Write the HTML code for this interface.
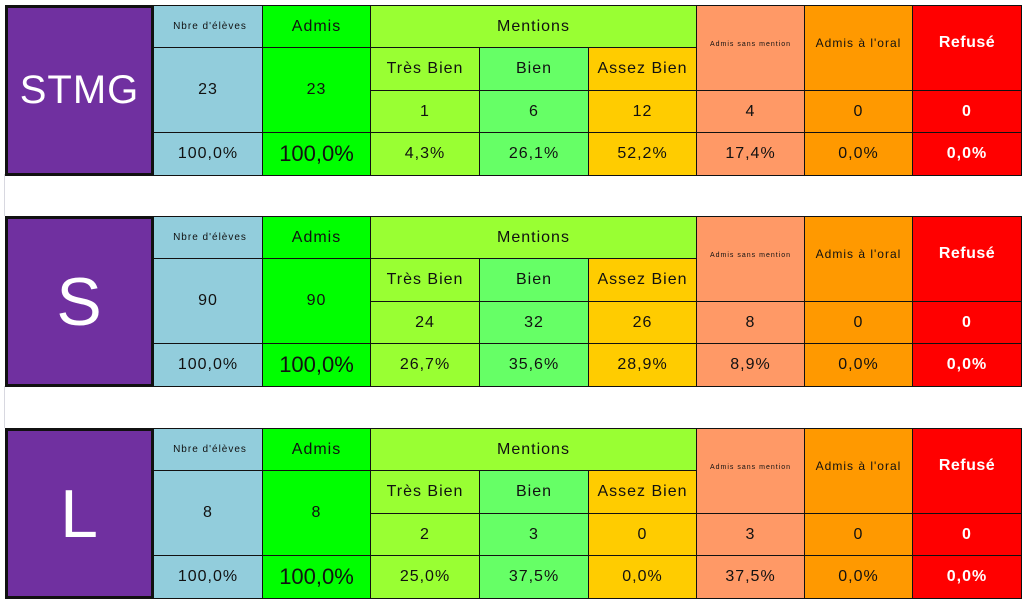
<!DOCTYPE html>
<html><head><meta charset="utf-8">
<style>
html,body{margin:0;padding:0;background:#fff;width:1024px;height:600px;overflow:hidden}
#root{position:relative;width:1024px;height:600px;font-family:"Liberation Sans",sans-serif}
.c{position:absolute;box-sizing:border-box;border:1px solid #111;display:flex;align-items:center;justify-content:center;color:#111;font-size:16px;letter-spacing:1px;white-space:nowrap;overflow:hidden}
.grid{position:absolute;left:4px;width:1px;background:#d8d8e0}
</style></head>
<body>
<div id="root"></div>
<script>
const sections = ["STMG","S","L"];
const nbEleves = [23,90,8];
const admis = [23,90,8];
const tresBien = [1,24,2];
const bien = [6,32,3];
const assezBien = [12,26,0];
const sansMention = [4,8,3];
const oral = [0,0,0];
const refuse = [0,0,0];
const pctEleves = ["100,0%","100,0%","100,0%"];
const pctAdmis = ["100,0%","100,0%","100,0%"];
const pctTB = ["4,3%","26,7%","25,0%"];
const pctB = ["26,1%","35,6%","37,5%"];
const pctAB = ["52,2%","28,9%","0,0%"];
const pctSM = ["17,4%","8,9%","37,5%"];
const pctOral = ["0,0%","0,0%","0,0%"];
const pctRef = ["0,0%","0,0%","0,0%"];

const root = document.getElementById('root');
const X = [5,153,262,370,479,588,696,804,912,1021];
const tops = [5,216,428];
function cell(x1,x2,y1,y2,bg,txt,name,extra){
  const d=document.createElement('div');
  d.className='c';
  d.style.left=x1+'px';d.style.top=y1+'px';
  d.style.width=(x2-x1+1)+'px';d.style.height=(y2-y1+1)+'px';
  d.style.background=bg;
  d.textContent=txt;
  if(extra) Object.assign(d.style,extra);
  
  
  root.appendChild(d);
  return d;
}
[[174,216],[386,428]].forEach(g=>{
  const l=document.createElement('div');l.className='grid';
  l.style.top=g[0]+'px';l.style.height=(g[1]-g[0])+'px';
  
  
  root.appendChild(l);
});
sections.forEach((s,i)=>{
  const t=tops[i];
  const r=[t,t+42,t+85,t+127,t+170];
  const big = s.length>1 ? {fontSize:'40px'} : {fontSize:'68px'};
  cell(X[0],X[1],r[0],r[4],'#7030A0',s,'section-label-'+s.toLowerCase(),Object.assign({color:'#fff',border:'3px solid #111',letterSpacing:'1px'},big));
  cell(X[1],X[2],r[0],r[1],'#92CDDC',"Nbre d'élèves",'header-nbre',{fontSize:'10px',letterSpacing:'1px',paddingLeft:'4px'});
  cell(X[1],X[2],r[1],r[3],'#92CDDC',String(nbEleves[i]),'value-nbre');
  cell(X[1],X[2],r[3],r[4],'#92CDDC',pctEleves[i],'pct-nbre');
  cell(X[2],X[3],r[0],r[1],'#00FF00','Admis','header-admis');
  cell(X[2],X[3],r[1],r[3],'#00FF00',String(admis[i]),'value-admis');
  cell(X[2],X[3],r[3],r[4],'#00FF00',pctAdmis[i],'pct-admis',{fontSize:'22px',letterSpacing:'0px'});
  cell(X[3],X[6],r[0],r[1],'#99FF33','Mentions','header-mentions');
  const mc=[['#99FF33','Très Bien',tresBien,pctTB,'tres-bien'],['#66FF66','Bien',bien,pctB,'bien'],['#FFCC00','Assez Bien',assezBien,pctAB,'assez-bien']];
  mc.forEach((m,j)=>{
    cell(X[3+j],X[4+j],r[1],r[2],m[0],m[1],'header-'+m[4]);
    cell(X[3+j],X[4+j],r[2],r[3],m[0],String(m[2][i]),'value-'+m[4]);
    cell(X[3+j],X[4+j],r[3],r[4],m[0],m[3][i],'pct-'+m[4]);
  });
  cell(X[6],X[7],r[0],r[2],'#FF9966','Admis sans mention','header-sans-mention',{fontSize:'7px',letterSpacing:'1px',paddingBottom:'8px'});
  cell(X[6],X[7],r[2],r[3],'#FF9966',String(sansMention[i]),'value-sans-mention');
  cell(X[6],X[7],r[3],r[4],'#FF9966',pctSM[i],'pct-sans-mention');
  cell(X[7],X[8],r[0],r[2],'#FF9900',"Admis à l'oral",'header-oral',{fontSize:'12px',letterSpacing:'1px',paddingBottom:'10px'});
  cell(X[7],X[8],r[2],r[3],'#FF9900',String(oral[i]),'value-oral');
  cell(X[7],X[8],r[3],r[4],'#FF9900',pctOral[i],'pct-oral');
  cell(X[8],X[9],r[0],r[2],'#FF0000','Refusé','header-refuse',{color:'#fff',fontWeight:'bold',letterSpacing:'0.5px',paddingBottom:'10px'});
  cell(X[8],X[9],r[2],r[3],'#FF0000',String(refuse[i]),'value-refuse',{color:'#fff',fontWeight:'bold'});
  cell(X[8],X[9],r[3],r[4],'#FF0000',pctRef[i],'pct-refuse',{color:'#fff',fontWeight:'bold'});
});
</script>
</body></html>
